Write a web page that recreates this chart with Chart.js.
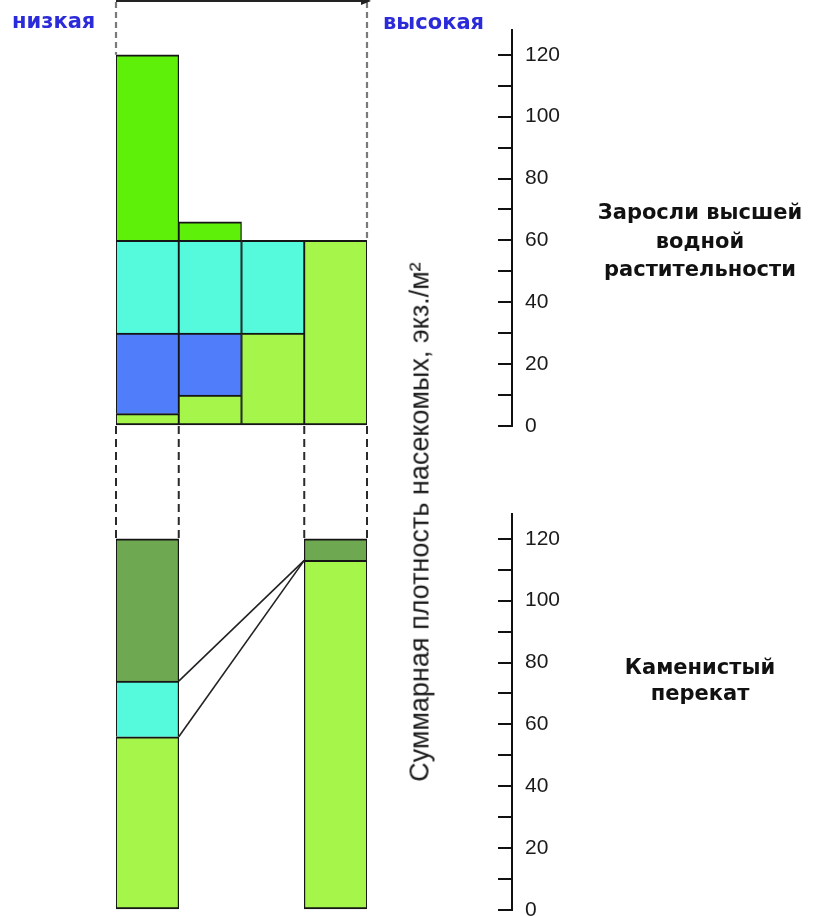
<!DOCTYPE html>
<html>
<head>
<meta charset="utf-8">
<script src="https://cdn.jsdelivr.net/npm/chart.js@4.4.1/dist/chart.umd.min.js"></script>
<style>
  body { margin: 0; background: #fff; }
  #wrap { position: relative; width: 825px; height: 916px; overflow: hidden; }
  canvas { position: absolute; left: 0; }
  #topChart { top: 0; }
  #botChart { top: 426px; }
  .lbl { position: absolute; font-family: "DejaVu Sans", sans-serif; font-weight: bold; white-space: nowrap; }
  .blue { color: #2b2bd9; font-size: 21px; line-height: 24px; }
  .grp { color: #111; font-size: 21px; text-align: center; left: 572px; width: 256px; }
  #yTitle { position: absolute; left: 420px; top: 522px; transform: translate(-50%, -50%) rotate(-90deg);
            font-family: "Liberation Sans", Arial, sans-serif; font-size: 27px; color: #1a1a1a; white-space: nowrap; }
</style>
</head>
<body>
<div id="wrap">
  <canvas id="topChart" width="825" height="440"></canvas>
  <canvas id="botChart" width="825" height="490"></canvas>
  <div class="lbl blue" style="left:12px; top:9px;">низкая</div>
  <div class="lbl blue" style="left:383px; top:10px;">высокая</div>
  <div class="lbl grp" style="top:198px; line-height:28.5px;">Заросли высшей<br>водной<br>растительности</div>
  <div class="lbl grp" style="top:654px; line-height:26px;">Каменистый<br>перекат</div>
  <div id="yTitle">Суммарная плотность насекомых, экз./м²</div>
</div>
<script>
const columns = ['1', '2', '3', '4'];
const yTicks = [0, 20, 40, 60, 80, 100, 120];
const yMax = 128;

// Заросли высшей водной растительности (снизу вверх)
const topLight = [4, 10, 30, 60];
const topBlue = [26, 20, null, null];
const topCyan = [30, 30, 30, null];
const topGreen = [60, 6, null, null];

// Каменистый перекат (снизу вверх)
const botLight = [56, null, null, 113];
const botCyan = [18, null, null, null];
const botDark = [46, null, null, 7];

const colLight = '#a5f54b';
const colBlue = '#507dfa';
const colCyan = '#55fadc';
const colGreen = '#5ff00a';
const colDark = '#6ea850';

function bar(data, color, bottom) {
    return {
        data: data,
        backgroundColor: color,
        borderColor: '#151515',
        borderWidth: { top: 2, bottom: 2, left: 1.3, right: 1.3 },
        borderSkipped: bottom ? false : 'start',
        categoryPercentage: 1,
        barPercentage: 1
    };
}

function total(sets, i) {
    return sets.reduce((s, a) => s + (a[i] || 0), 0);
}

function scalesFor() {
    return {
        x: { stacked: true, display: false },
        y: {
            stacked: true, min: 0, max: yMax, position: 'right', weight: 1,
            ticks: {
                stepSize: 10, includeBounds: false, padding: 27, color: '#1a1a1a',
                font: { family: 'Liberation Sans', size: 21 },
                callback: v => yTicks.includes(v) ? String(v) : ''
            },
            grid: { drawOnChartArea: false, drawTicks: true, tickLength: -14, color: '#111', lineWidth: 2 },
            border: { display: true, color: '#111', width: 2 },
            afterFit: s => { s.width = 60; s.paddingTop = 0; s.paddingBottom = 0; }
        },
        // empty space between the bars and the axis
        gap: {
            type: 'linear', position: 'right', weight: 0, display: true,
            ticks: { display: false }, grid: { display: false }, border: { display: false },
            afterFit: s => { s.width = 145; }
        }
    };
}

function seg(ctx, x1, y1, x2, y2) {
    ctx.beginPath();
    ctx.moveTo(x1, y1);
    ctx.lineTo(x2, y2);
    ctx.stroke();
}

const topSets = [topLight, topBlue, topCyan, topGreen];
const botSets = [botLight, botCyan, botDark];

const topGuides = {
    id: 'topGuides',
    afterDraw(chart) {
        const { ctx, scales: { x, y } } = chart;
        const edge = i => x.getPixelForValue(i - 0.5);
        ctx.save();
        ctx.strokeStyle = '#7a7a7a';
        ctx.lineWidth = 2.2;
        ctx.setLineDash([6, 4]);
        seg(ctx, edge(0), 2, edge(0), y.getPixelForValue(total(topSets, 0)));
        seg(ctx, edge(4), 2, edge(4), y.getPixelForValue(total(topSets, 3)));
        // arrow along the top
        ctx.setLineDash([]);
        ctx.strokeStyle = '#222';
        ctx.lineWidth = 2;
        seg(ctx, edge(0), 1, edge(4), 1);
        ctx.fillStyle = '#222';
        ctx.beginPath();
        ctx.moveTo(edge(4) + 4, 1);
        ctx.lineTo(edge(4) - 6, -4);
        ctx.lineTo(edge(4) - 6, 5);
        ctx.closePath();
        ctx.fill();
        ctx.restore();
    }
};

const botGuides = {
    id: 'botGuides',
    afterDatasetsDraw(chart) {
        const { ctx, scales: { x, y } } = chart;
        const edge = i => x.getPixelForValue(i - 0.5);
        ctx.save();
        ctx.strokeStyle = '#2a2a2a';
        ctx.lineWidth = 2;
        ctx.setLineDash([8, 5]);
        columns.forEach((c, i) => {
            const t = total(botSets, i);
            if (!t) return;
            seg(ctx, edge(i), 0, edge(i), y.getPixelForValue(t));
            seg(ctx, edge(i + 1), 0, edge(i + 1), y.getPixelForValue(t));
        });
        // links from the cyan layer to the right column
        ctx.setLineDash([]);
        ctx.strokeStyle = '#222';
        ctx.lineWidth = 1.6;
        const yR = y.getPixelForValue(botLight[3]);
        seg(ctx, edge(1), y.getPixelForValue(botLight[0] + botCyan[0]), edge(3), yR);
        seg(ctx, edge(1), y.getPixelForValue(botLight[0]), edge(3), yR);
        ctx.restore();
    }
};

const common = {
    responsive: false,
    animation: false,
    plugins: { legend: { display: false }, tooltip: { enabled: false } }
};

new Chart(document.getElementById('topChart').getContext('2d'), {
    type: 'bar',
    data: {
        labels: columns,
        datasets: [
            bar(topLight, colLight, true),
            bar(topBlue, colBlue),
            bar(topCyan, colCyan),
            bar(topGreen, colGreen)
        ]
    },
    options: Object.assign({}, common, {
        layout: { padding: { left: 116, right: 253, top: 30, bottom: 14 } },
        scales: scalesFor()
    }),
    plugins: [topGuides]
});

new Chart(document.getElementById('botChart').getContext('2d'), {
    type: 'bar',
    data: {
        labels: columns,
        datasets: [
            bar(botLight, colLight, true),
            bar(botCyan, colCyan),
            bar(botDark, colDark)
        ]
    },
    options: Object.assign({}, common, {
        layout: { padding: { left: 116, right: 253, top: 88, bottom: 6 } },
        scales: scalesFor()
    }),
    plugins: [botGuides]
});
</script>
</body>
</html>
